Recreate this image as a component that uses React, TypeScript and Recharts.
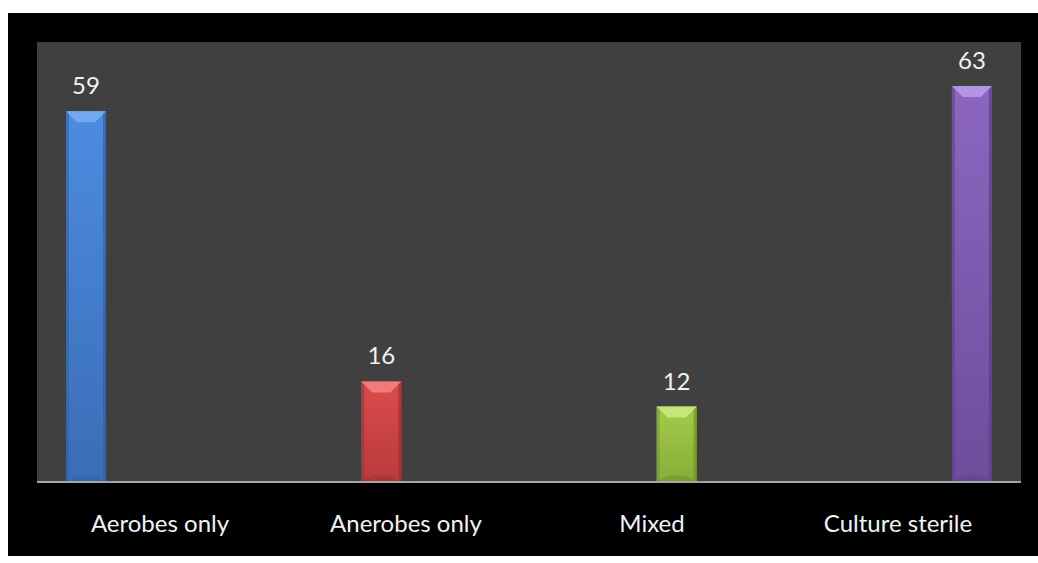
import { BarChart, Bar, XAxis, YAxis, CartesianGrid, LabelList } from 'recharts';

const categories = ['Aerobes only', 'Anerobes only', 'Mixed', 'Culture sterile'];
const seriesKeys = ['aerobes', 'anerobes', 'mixed', 'sterile'];
const seriesValues = [59, 16, 12, 63];

// one row per category, only its own series filled (Excel-style offset bars)
const data = categories.map((name, i) => {
  const row: Record<string, string | number | null> = { name };
  seriesKeys.forEach((k, j) => {
    row[k] = i === j ? seriesValues[j] : null;
  });
  return row;
});

const palette = [
  { top: '#4d8ce0', bottom: '#3a6db6', bevel: '#75a9ee', edge: '#2f5f9f' },
  { top: '#dc4c4c', bottom: '#b83b3b', bevel: '#f27a7a', edge: '#9e3030' },
  { top: '#a4cc4a', bottom: '#86ad37', bevel: '#c6e57a', edge: '#6f912a' },
  { top: '#8c66c0', bottom: '#6d4d9c', bevel: '#b694e4', edge: '#5a3f84' },
];

const BevelBar = (props: any) => {
  const { x, y, width, height, idx } = props;
  if (!height || height <= 0) return null;
  const c = palette[idx];
  const b = Math.min(11, height / 3);
  const e = 3;
  return (
    <g>
      <rect x={x} y={y} width={width} height={height} fill={`url(#grad${idx})`} />
      <rect x={x} y={y} width={e} height={height} fill={c.edge} opacity={0.55} />
      <rect x={x + width - e} y={y} width={e} height={height} fill={c.edge} opacity={0.7} />
      <polygon
        points={`${x},${y} ${x + width},${y} ${x + width - b},${y + b} ${x + b},${y + b}`}
        fill={c.bevel}
      />
      <polygon
        points={`${x},${y + height} ${x + width},${y + height} ${x + width - b},${y + height - b * 0.6} ${x + b},${y + height - b * 0.6}`}
        fill={c.edge}
        opacity={0.5}
      />
    </g>
  );
};

export default function App() {
  return (
    <div style={{ position: 'absolute', left: 0, top: 0, width: 1038, height: 563, background: '#fff' }}>
      <div style={{ position: 'absolute', left: 8, top: 13, width: 1030, height: 543, background: '#000' }} />
      <div style={{ position: 'absolute', left: 0, top: 0 }}>
        <BarChart
          width={1038}
          height={563}
          data={data}
          margin={{ top: 42, right: 17, bottom: 0, left: 37 }}
          barGap={9.3}
          barSize={40}
        >
          <defs>
            {palette.map((c, i) => (
              <linearGradient key={i} id={`grad${i}`} x1="0" y1="0" x2="0" y2="1">
                <stop offset="0%" stopColor={c.top} />
                <stop offset="100%" stopColor={c.bottom} />
              </linearGradient>
            ))}
          </defs>
          <CartesianGrid fill="#404040" horizontal={false} vertical={false} stroke="none" />
          <XAxis
            dataKey="name"
            height={81}
            tickLine={false}
            tickSize={0}
            tickMargin={33}
            axisLine={{ stroke: '#a6a6a6', strokeWidth: 2 }}
            tick={{ fill: '#f2f2f2', fontSize: 24, fontFamily: 'Lato' }}
            interval={0}
          />
          <YAxis hide domain={[0, 70]} width={0} />
          {seriesKeys.map((k, i) => (
            <Bar
              key={k}
              dataKey={k}
              isAnimationActive={false}
              shape={(p: any) => <BevelBar {...p} idx={i} />}
            >
              <LabelList
                dataKey={k}
                position="top"
                offset={17}
                fill="#f2f2f2"
                style={{ fontSize: 24, fontFamily: 'Lato' }}
              />
            </Bar>
          ))}
        </BarChart>
      </div>
    </div>
  );
}
